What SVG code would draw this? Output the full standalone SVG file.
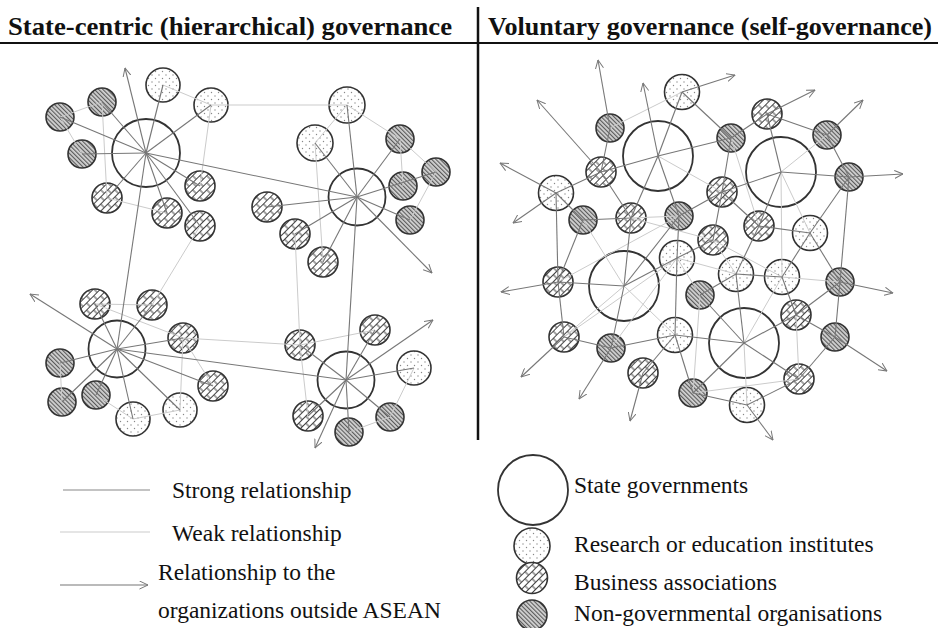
<svg xmlns="http://www.w3.org/2000/svg" width="938" height="628" viewBox="0 0 938 628">
<style>
.st{stroke:#777;stroke-width:1.1;fill:none}
.wk{stroke:#cbcbcb;stroke-width:1;fill:none}
.ar{stroke:#777;stroke-width:1.1;fill:none;marker-end:url(#arr)}
.gov{fill:#fff;stroke:#333;stroke-width:1.8}
.rei{fill:url(#dots);stroke:#333;stroke-width:1.6}
.bus{fill:url(#brick);stroke:#333;stroke-width:1.6}
.ngo{fill:url(#hatch);stroke:#333;stroke-width:1.6}
.title{font-family:"Liberation Serif","Times New Roman",serif;font-weight:bold;font-size:26px;fill:#111}
.leg{font-family:"Liberation Serif","Times New Roman",serif;font-size:23.5px;fill:#111}
</style>
<defs>
<marker id="arr" viewBox="0 0 10 10" refX="9.5" refY="5" markerWidth="9" markerHeight="9" markerUnits="userSpaceOnUse" orient="auto">
<path d="M0,0.5 L9.5,5 L0,9.5" fill="none" stroke="#777" stroke-width="1.1"/>
</marker>
<pattern id="dots" width="7" height="7" patternUnits="userSpaceOnUse">
<rect width="7" height="7" fill="#fff"/>
<circle cx="1.5" cy="1.5" r="0.7" fill="#888"/>
<circle cx="5" cy="5" r="0.7" fill="#888"/>
</pattern>
<pattern id="hatch" width="3" height="3" patternUnits="userSpaceOnUse" patternTransform="rotate(-45)">
<rect width="3" height="3" fill="#d4d4d4"/>
<line x1="0.6" y1="0" x2="0.6" y2="3" stroke="#555" stroke-width="1.1"/>
</pattern>
<pattern id="brick" width="10" height="10" patternUnits="userSpaceOnUse" patternTransform="rotate(-45)">
<rect width="10" height="10" fill="#fff"/>
<path d="M0,0.5H10M0,5.5H10M2,0.5V5.5M7,5.5V10" stroke="#444" stroke-width="1" fill="none"/>
</pattern>
</defs>
<rect width="938" height="628" fill="#fff"/>

<g id="header">
<text class="title" x="8" y="35" textLength="444" lengthAdjust="spacingAndGlyphs">State-centric (hierarchical) governance</text>
<text class="title" x="488" y="35" textLength="444" lengthAdjust="spacingAndGlyphs">Voluntary governance (self-governance)</text>
<line x1="0" y1="43" x2="938" y2="43" stroke="#111" stroke-width="2"/>
<line x1="478" y1="7" x2="478" y2="440" stroke="#111" stroke-width="2.5"/>
</g>

<!-- Left panel nodes -->
<g id="tl_gov"><circle class="gov" cx="146" cy="153" r="34"/></g>
<g id="tl_d1"><circle class="rei" cx="163" cy="85" r="17"/></g>
<g id="tl_d2"><circle class="rei" cx="211" cy="105" r="17"/></g>
<g id="tl_n1"><circle class="ngo" cx="102" cy="102" r="14"/></g>
<g id="tl_n2"><circle class="ngo" cx="60" cy="117" r="14"/></g>
<g id="tl_n3"><circle class="ngo" cx="82" cy="154" r="14"/></g>
<g id="tl_b1"><circle class="bus" cx="107" cy="198" r="15"/></g>
<g id="tl_b2"><circle class="bus" cx="200" cy="186" r="15"/></g>
<g id="tl_b3"><circle class="bus" cx="167" cy="213" r="15"/></g>
<g id="tl_b4"><circle class="bus" cx="200" cy="226" r="15"/></g>

<g id="tr_gov"><circle class="gov" cx="357" cy="197" r="28.5"/></g>
<g id="tr_d1"><circle class="rei" cx="347" cy="105" r="18"/></g>
<g id="tr_d2"><circle class="rei" cx="315" cy="143" r="18"/></g>
<g id="tr_n1"><circle class="ngo" cx="400" cy="139" r="14"/></g>
<g id="tr_n2"><circle class="ngo" cx="436" cy="172" r="14"/></g>
<g id="tr_n3"><circle class="ngo" cx="403" cy="186" r="14"/></g>
<g id="tr_n4"><circle class="ngo" cx="410" cy="220" r="14"/></g>
<g id="tr_b1"><circle class="bus" cx="267" cy="207" r="15"/></g>
<g id="tr_b2"><circle class="bus" cx="295" cy="234" r="15"/></g>
<g id="tr_b3"><circle class="bus" cx="323" cy="262" r="15"/></g>

<g id="bl_gov"><circle class="gov" cx="117" cy="349" r="28.5"/></g>
<g id="bl_b1"><circle class="bus" cx="95" cy="304" r="15"/></g>
<g id="bl_b2"><circle class="bus" cx="152" cy="305" r="15"/></g>
<g id="bl_b3"><circle class="bus" cx="183" cy="338" r="15"/></g>
<g id="bl_b4"><circle class="bus" cx="213" cy="386" r="15"/></g>
<g id="bl_n1"><circle class="ngo" cx="60" cy="363" r="14"/></g>
<g id="bl_n2"><circle class="ngo" cx="62" cy="402" r="14"/></g>
<g id="bl_n3"><circle class="ngo" cx="96" cy="395" r="14"/></g>
<g id="bl_d1"><circle class="rei" cx="133" cy="419" r="17"/></g>
<g id="bl_d2"><circle class="rei" cx="180" cy="410" r="17"/></g>

<g id="br_gov"><circle class="gov" cx="346" cy="380" r="28.5"/></g>
<g id="br_b1"><circle class="bus" cx="300" cy="345" r="15"/></g>
<g id="br_b2"><circle class="bus" cx="375" cy="330" r="15"/></g>
<g id="br_d1"><circle class="rei" cx="414" cy="368" r="17"/></g>
<g id="br_n1"><circle class="ngo" cx="390" cy="417" r="14"/></g>
<g id="br_n2"><circle class="ngo" cx="349" cy="432" r="14"/></g>
<g id="br_b3"><circle class="bus" cx="308" cy="416" r="15"/></g>

<!-- Right panel nodes -->
<g id="S1"><circle class="gov" cx="658" cy="156" r="35"/></g>
<g id="S2"><circle class="gov" cx="781" cy="172" r="35"/></g>
<g id="S3"><circle class="gov" cx="624" cy="286" r="35"/></g>
<g id="S4"><circle class="gov" cx="744" cy="343" r="35"/></g>
<g id="D1"><circle class="rei" cx="682" cy="92" r="17.5"/></g>
<g id="D2"><circle class="rei" cx="556" cy="193" r="17.5"/></g>
<g id="D3"><circle class="rei" cx="810" cy="233" r="17.5"/></g>
<g id="D4"><circle class="rei" cx="677" cy="258" r="17.5"/></g>
<g id="D5"><circle class="rei" cx="675" cy="335" r="17.5"/></g>
<g id="D6"><circle class="rei" cx="736" cy="274" r="17.5"/></g>
<g id="D7"><circle class="rei" cx="782" cy="277" r="17.5"/></g>
<g id="D8"><circle class="rei" cx="747" cy="405" r="17.5"/></g>
<g id="B1"><circle class="bus" cx="601" cy="172" r="15"/></g>
<g id="B2"><circle class="bus" cx="631" cy="218" r="15"/></g>
<g id="B3"><circle class="bus" cx="767" cy="114" r="15"/></g>
<g id="B4"><circle class="bus" cx="722" cy="192" r="15"/></g>
<g id="B5"><circle class="bus" cx="759" cy="226" r="15"/></g>
<g id="B6"><circle class="bus" cx="713" cy="240" r="15"/></g>
<g id="B7"><circle class="bus" cx="558" cy="282" r="15"/></g>
<g id="B8"><circle class="bus" cx="564" cy="337" r="15"/></g>
<g id="B9"><circle class="bus" cx="643" cy="373" r="15"/></g>
<g id="B10"><circle class="bus" cx="796" cy="315" r="15"/></g>
<g id="B11"><circle class="bus" cx="799" cy="379" r="15"/></g>
<g id="N1"><circle class="ngo" cx="610" cy="128" r="14"/></g>
<g id="N2"><circle class="ngo" cx="583" cy="220" r="14"/></g>
<g id="N3"><circle class="ngo" cx="679" cy="216" r="14"/></g>
<g id="N4"><circle class="ngo" cx="731" cy="138" r="14"/></g>
<g id="N5"><circle class="ngo" cx="827" cy="135" r="14"/></g>
<g id="N6"><circle class="ngo" cx="849" cy="177" r="14"/></g>
<g id="N7"><circle class="ngo" cx="700" cy="295" r="14"/></g>
<g id="N8"><circle class="ngo" cx="611" cy="348" r="14"/></g>
<g id="N9"><circle class="ngo" cx="693" cy="393" r="14"/></g>
<g id="N10"><circle class="ngo" cx="840" cy="282" r="14"/></g>
<g id="N11"><circle class="ngo" cx="835" cy="337" r="14"/></g>

<g id="connectors">
<!-- left weak -->
<g class="wk">
<line x1="102" y1="102" x2="60" y2="117"/>
<line x1="60" y1="117" x2="82" y2="154"/>
<line x1="163" y1="85" x2="211" y2="105"/>
<line x1="102" y1="102" x2="107" y2="198"/>
<line x1="211" y1="105" x2="200" y2="186"/>
<line x1="107" y1="198" x2="167" y2="213"/>
<line x1="200" y1="226" x2="152" y2="305"/>
<line x1="211" y1="105" x2="347" y2="105"/>
<line x1="347" y1="105" x2="315" y2="143"/>
<line x1="347" y1="105" x2="400" y2="139"/>
<line x1="400" y1="139" x2="436" y2="172"/>
<line x1="400" y1="139" x2="403" y2="186"/>
<line x1="436" y1="172" x2="410" y2="220"/>
<line x1="315" y1="143" x2="323" y2="262"/>
<line x1="295" y1="234" x2="300" y2="345"/>
<line x1="95" y1="304" x2="152" y2="305"/>
<line x1="95" y1="304" x2="183" y2="338"/>
<line x1="183" y1="338" x2="213" y2="386"/>
<line x1="183" y1="338" x2="180" y2="410"/>
<line x1="60" y1="363" x2="62" y2="402"/>
<line x1="96" y1="395" x2="133" y2="419"/>
<line x1="133" y1="419" x2="180" y2="410"/>
<line x1="183" y1="338" x2="300" y2="345"/>
<line x1="300" y1="345" x2="375" y2="330"/>
<line x1="414" y1="368" x2="390" y2="417"/>
<line x1="390" y1="417" x2="349" y2="432"/>
<line x1="300" y1="345" x2="308" y2="416"/>
</g>
<!-- left strong -->
<g class="st">
<line x1="146" y1="153" x2="163" y2="85"/>
<line x1="146" y1="153" x2="211" y2="105"/>
<line x1="146" y1="153" x2="102" y2="102"/>
<line x1="146" y1="153" x2="60" y2="117"/>
<line x1="146" y1="153" x2="82" y2="154"/>
<line x1="146" y1="153" x2="107" y2="198"/>
<line x1="146" y1="153" x2="200" y2="186"/>
<line x1="146" y1="153" x2="167" y2="213"/>
<line x1="146" y1="153" x2="200" y2="226"/>
<line x1="146" y1="153" x2="357" y2="197"/>
<line x1="146" y1="153" x2="117" y2="349"/>
<line x1="357" y1="197" x2="347" y2="105"/>
<line x1="357" y1="197" x2="315" y2="143"/>
<line x1="357" y1="197" x2="400" y2="139"/>
<line x1="357" y1="197" x2="436" y2="172"/>
<line x1="357" y1="197" x2="410" y2="220"/>
<line x1="357" y1="197" x2="267" y2="207"/>
<line x1="357" y1="197" x2="295" y2="234"/>
<line x1="357" y1="197" x2="323" y2="262"/>
<line x1="357" y1="197" x2="346" y2="380"/>
<line x1="117" y1="349" x2="95" y2="304"/>
<line x1="117" y1="349" x2="152" y2="305"/>
<line x1="117" y1="349" x2="183" y2="338"/>
<line x1="117" y1="349" x2="213" y2="386"/>
<line x1="117" y1="349" x2="60" y2="363"/>
<line x1="117" y1="349" x2="62" y2="402"/>
<line x1="117" y1="349" x2="96" y2="395"/>
<line x1="117" y1="349" x2="133" y2="419"/>
<line x1="117" y1="349" x2="180" y2="410"/>
<line x1="117" y1="349" x2="346" y2="380"/>
<line x1="346" y1="380" x2="300" y2="345"/>
<line x1="346" y1="380" x2="375" y2="330"/>
<line x1="346" y1="380" x2="414" y2="368"/>
<line x1="346" y1="380" x2="390" y2="417"/>
<line x1="346" y1="380" x2="349" y2="432"/>
<line x1="346" y1="380" x2="308" y2="416"/>
</g>
<!-- left arrows -->
<line class="ar" x1="146" y1="153" x2="125" y2="68"/>
<line class="ar" x1="357" y1="197" x2="432" y2="273"/>
<line class="ar" x1="117" y1="349" x2="30" y2="294"/>
<line class="ar" x1="346" y1="380" x2="433" y2="320"/>
<line class="ar" x1="346" y1="380" x2="315" y2="448"/>

<!-- right weak -->
<g class="wk">
<line x1="682" y1="92" x2="610" y2="128"/>
<line x1="631" y1="218" x2="679" y2="216"/>
<line x1="631" y1="218" x2="713" y2="240"/>
<line x1="558" y1="282" x2="679" y2="216"/>
<line x1="624" y1="286" x2="564" y2="337"/>
<line x1="624" y1="286" x2="675" y2="335"/>
<line x1="564" y1="337" x2="677" y2="258"/>
<line x1="677" y1="258" x2="700" y2="295"/>
<line x1="700" y1="295" x2="693" y2="393"/>
<line x1="782" y1="277" x2="840" y2="282"/>
<line x1="796" y1="315" x2="799" y2="379"/>
<line x1="693" y1="393" x2="799" y2="379"/>
<line x1="744" y1="343" x2="782" y2="277"/>
<line x1="781" y1="172" x2="782" y2="277"/>
<line x1="781" y1="172" x2="827" y2="135"/>
<line x1="781" y1="172" x2="810" y2="233"/>
<line x1="731" y1="138" x2="759" y2="226"/>
<line x1="736" y1="274" x2="677" y2="258"/>
<line x1="713" y1="240" x2="736" y2="274"/>
<line x1="583" y1="220" x2="624" y2="286"/>
<line x1="658" y1="156" x2="722" y2="192"/>
<line x1="747" y1="405" x2="744" y2="343"/>
<line x1="782" y1="277" x2="713" y2="240"/>
<line x1="611" y1="348" x2="677" y2="258"/>
</g>
<!-- right strong -->
<g class="st">
<line x1="658" y1="156" x2="682" y2="92"/>
<line x1="658" y1="156" x2="601" y2="172"/>
<line x1="658" y1="156" x2="631" y2="218"/>
<line x1="658" y1="156" x2="679" y2="216"/>
<line x1="658" y1="156" x2="731" y2="138"/>
<line x1="610" y1="128" x2="601" y2="172"/>
<line x1="601" y1="172" x2="556" y2="193"/>
<line x1="601" y1="172" x2="631" y2="218"/>
<line x1="556" y1="193" x2="583" y2="220"/>
<line x1="556" y1="193" x2="558" y2="282"/>
<line x1="583" y1="220" x2="631" y2="218"/>
<line x1="583" y1="220" x2="558" y2="282"/>
<line x1="631" y1="218" x2="624" y2="286"/>
<line x1="679" y1="216" x2="677" y2="258"/>
<line x1="682" y1="92" x2="731" y2="138"/>
<line x1="731" y1="138" x2="767" y2="114"/>
<line x1="731" y1="138" x2="722" y2="192"/>
<line x1="767" y1="114" x2="827" y2="135"/>
<line x1="767" y1="114" x2="781" y2="172"/>
<line x1="827" y1="135" x2="849" y2="177"/>
<line x1="849" y1="177" x2="781" y2="172"/>
<line x1="849" y1="177" x2="810" y2="233"/>
<line x1="849" y1="177" x2="840" y2="282"/>
<line x1="781" y1="172" x2="722" y2="192"/>
<line x1="781" y1="172" x2="759" y2="226"/>
<line x1="722" y1="192" x2="759" y2="226"/>
<line x1="722" y1="192" x2="679" y2="216"/>
<line x1="722" y1="192" x2="713" y2="240"/>
<line x1="759" y1="226" x2="810" y2="233"/>
<line x1="759" y1="226" x2="736" y2="274"/>
<line x1="810" y1="233" x2="782" y2="277"/>
<line x1="558" y1="282" x2="624" y2="286"/>
<line x1="558" y1="282" x2="564" y2="337"/>
<line x1="624" y1="286" x2="677" y2="258"/>
<line x1="624" y1="286" x2="611" y2="348"/>
<line x1="624" y1="286" x2="679" y2="216"/>
<line x1="564" y1="337" x2="611" y2="348"/>
<line x1="611" y1="348" x2="675" y2="335"/>
<line x1="643" y1="373" x2="675" y2="335"/>
<line x1="675" y1="335" x2="693" y2="393"/>
<line x1="677" y1="258" x2="675" y2="335"/>
<line x1="677" y1="258" x2="713" y2="240"/>
<line x1="675" y1="335" x2="744" y2="343"/>
<line x1="736" y1="274" x2="782" y2="277"/>
<line x1="810" y1="233" x2="840" y2="282"/>
<line x1="840" y1="282" x2="835" y2="337"/>
<line x1="796" y1="315" x2="840" y2="282"/>
<line x1="796" y1="315" x2="835" y2="337"/>
<line x1="796" y1="315" x2="744" y2="343"/>
<line x1="799" y1="379" x2="835" y2="337"/>
<line x1="799" y1="379" x2="744" y2="343"/>
<line x1="799" y1="379" x2="747" y2="405"/>
<line x1="747" y1="405" x2="693" y2="393"/>
<line x1="744" y1="343" x2="736" y2="274"/>
<line x1="744" y1="343" x2="700" y2="295"/>
<line x1="744" y1="343" x2="693" y2="393"/>
<line x1="782" y1="277" x2="796" y2="315"/>
<line x1="700" y1="295" x2="736" y2="274"/>
</g>
<!-- right arrows -->
<line class="ar" x1="658" y1="156" x2="643" y2="83"/>
<line class="ar" x1="610" y1="128" x2="598" y2="60"/>
<line class="ar" x1="601" y1="172" x2="537" y2="100"/>
<line class="ar" x1="556" y1="193" x2="500" y2="163"/>
<line class="ar" x1="556" y1="193" x2="513" y2="223"/>
<line class="ar" x1="682" y1="92" x2="735" y2="75"/>
<line class="ar" x1="767" y1="114" x2="815" y2="90"/>
<line class="ar" x1="827" y1="135" x2="863" y2="100"/>
<line class="ar" x1="849" y1="177" x2="903" y2="174"/>
<line class="ar" x1="558" y1="282" x2="501" y2="292"/>
<line class="ar" x1="564" y1="337" x2="521" y2="377"/>
<line class="ar" x1="611" y1="348" x2="579" y2="399"/>
<line class="ar" x1="643" y1="373" x2="630" y2="421"/>
<line class="ar" x1="840" y1="282" x2="893" y2="293"/>
<line class="ar" x1="835" y1="337" x2="887" y2="371"/>
<line class="ar" x1="747" y1="405" x2="773" y2="440"/>
</g>

<g id="legend">
<line x1="63" y1="490" x2="150" y2="490" stroke="#888" stroke-width="1.1"/>
<text class="leg" x="172" y="498">Strong relationship</text>
<line x1="60" y1="532" x2="150" y2="532" stroke="#cbcbcb" stroke-width="1"/>
<text class="leg" x="172" y="541">Weak relationship</text>
<line class="ar" x1="60" y1="585" x2="148" y2="585"/>
<text class="leg" x="158" y="580">Relationship to the</text>
<text class="leg" x="158" y="618">organizations outside ASEAN</text>
<circle class="gov" cx="533" cy="490" r="35"/>
<text class="leg" x="574" y="493">State governments</text>
<circle class="rei" cx="532" cy="546" r="18"/>
<text class="leg" x="574" y="552">Research or education institutes</text>
<circle class="bus" cx="532" cy="578" r="15.5"/>
<text class="leg" x="574" y="590">Business associations</text>
<circle class="ngo" cx="532" cy="615" r="15"/>
<text class="leg" x="574" y="621">Non-governmental organisations</text>
</g>
</svg>
